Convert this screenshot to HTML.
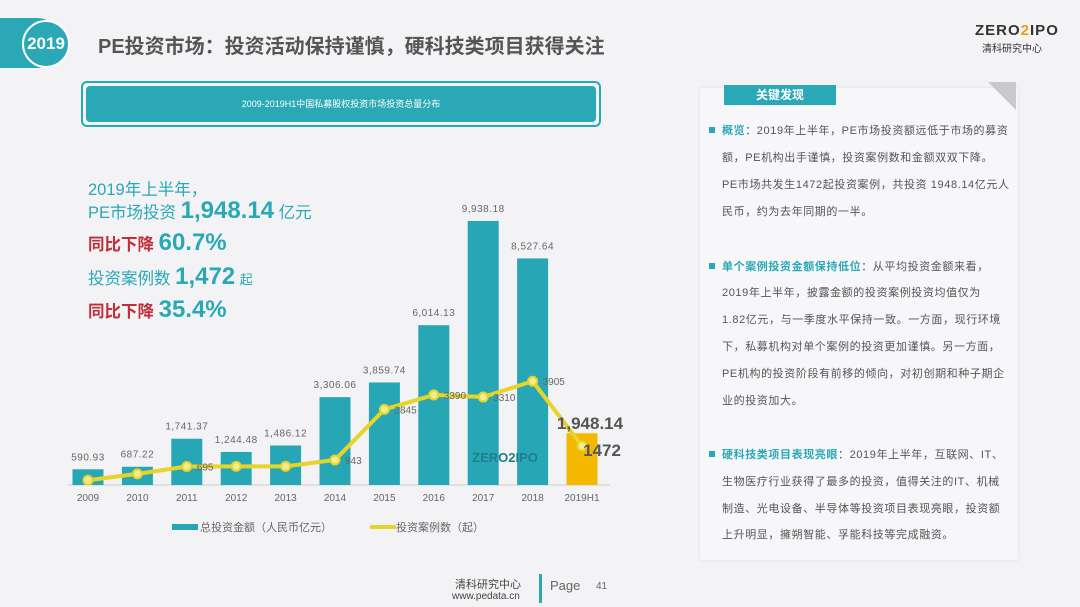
<!DOCTYPE html>
<html><head><meta charset="utf-8">
<style>
body{margin:0;width:1080px;height:607px;overflow:hidden;background:#f3f3f5;font-family:"Liberation Sans","Noto Sans CJK SC",sans-serif;position:relative}
.abs{position:absolute}
.rl{position:absolute;left:722px;font-size:11px;color:#555;white-space:nowrap;letter-spacing:0.6px}
.bul{position:absolute;left:709px;width:6px;height:6px;background:#2aa8b5}
.hl{color:#2aa8b5;font-weight:bold}
.big{font-size:24px;font-weight:bold;color:#2aa8b5;font-family:"Liberation Sans","Noto Sans CJK SC",sans-serif}
.tl{position:absolute;left:88px;font-size:16.5px;color:#2aa8b5;white-space:nowrap}
.red{color:#c0303a;font-weight:bold}
</style></head><body>
<div class="abs" style="left:0;top:18px;width:62px;height:50px;background:#2aa8b5;border-radius:0 25px 25px 0"></div>
<div class="abs" style="left:22px;top:20px;width:44px;height:44px;border-radius:50%;background:#2aa8b5;border:2px solid #fff;color:#fff;font-weight:bold;font-size:17px;line-height:44px;text-align:center">2019</div>
<div class="abs" style="left:98px;top:30px;font-size:20px;font-weight:bold;color:#555;white-space:nowrap">PE投资市场：投资活动保持谨慎，硬科技类项目获得关注</div>
<div class="abs" style="left:975px;top:22px;font-size:15px;font-weight:bold;color:#333;letter-spacing:1px">ZERO<span style="color:#e0a020">2</span>IPO</div>
<div class="abs" style="left:982px;top:40px;font-size:10px;color:#333">清科研究中心</div>
<div class="abs" style="left:81px;top:81px;width:516px;height:42px;border:2px solid #2aa8b5;border-radius:6px"></div>
<div class="abs" style="left:86px;top:86px;width:510px;height:36px;background:#2aa8b5;border-radius:4px;color:#fff;font-size:9px;line-height:36px;text-align:center">2009-2019H1中国私募股权投资市场投资总量分布</div>

<div class="tl" style="top:176px">2019年上半年，</div>
<div class="tl" style="top:197px">PE市场投资 <span class="big">1,948.14</span> 亿元</div>
<div class="tl" style="top:229px"><span class="red">同比下降</span> <span class="big">60.7%</span></div>
<div class="tl" style="top:263px">投资案例数 <span class="big">1,472</span> <span style="font-size:13px">起</span></div>
<div class="tl" style="top:296px"><span class="red">同比下降</span> <span class="big">35.4%</span></div>

<div class="abs" style="left:700px;top:88px;width:318px;height:472px;background:#f7f7fa;box-shadow:0 0 3px #ddd"></div>
<div class="abs" style="left:988px;top:82px;width:0;height:0;border-left:28px solid transparent;border-top:28px solid #c9c9cc"></div>
<div class="abs" style="left:724px;top:85px;width:112px;height:20px;background:#2aa8b5;color:#fff;font-size:12px;font-weight:bold;line-height:20px;text-align:center">关键发现</div>

<div class="bul" style="top:127px"></div>
<div class="rl" style="top:122px"><span class="hl">概览</span>：2019年上半年，PE市场投资额远低于市场的募资</div>
<div class="rl" style="top:149px">额，PE机构出手谨慎，投资案例数和金额双双下降。</div>
<div class="rl" style="top:176px">PE市场共发生1472起投资案例，共投资 1948.14亿元人</div>
<div class="rl" style="top:203px">民币，约为去年同期的一半。</div>
<div class="bul" style="top:263px"></div>
<div class="rl" style="top:258px"><span class="hl">单个案例投资金额保持低位</span>：从平均投资金额来看，</div>
<div class="rl" style="top:284px">2019年上半年，披露金额的投资案例投资均值仅为</div>
<div class="rl" style="top:311px">1.82亿元，与一季度水平保持一致。一方面，现行环境</div>
<div class="rl" style="top:338px">下，私募机构对单个案例的投资更加谨慎。另一方面，</div>
<div class="rl" style="top:365px">PE机构的投资阶段有前移的倾向，对初创期和种子期企</div>
<div class="rl" style="top:392px">业的投资加大。</div>
<div class="bul" style="top:451px"></div>
<div class="rl" style="top:446px"><span class="hl">硬科技类项目表现亮眼</span>：2019年上半年，互联网、IT、</div>
<div class="rl" style="top:473px">生物医疗行业获得了最多的投资，值得关注的IT、机械</div>
<div class="rl" style="top:500px">制造、光电设备、半导体等投资项目表现亮眼，投资额</div>
<div class="rl" style="top:526px">上升明显，擁朔智能、孚能科技等完成融资。</div>

<div class="abs" style="left:455px;top:576px;font-size:11px;color:#444">清科研究中心</div>
<div class="abs" style="left:452px;top:591px;font-size:10px;color:#444">www.pedata.cn</div>
<div class="abs" style="left:539px;top:574px;width:3px;height:29px;background:#2aa8b5"></div>
<div class="abs" style="left:550px;top:578px;font-size:13px;color:#666">Page</div>
<div class="abs" style="left:596px;top:581px;font-size:10px;color:#666">41</div>

<svg id="chart" class="abs" style="left:0;top:0" width="1080" height="607"></svg>
<script>
const categories=["2009","2010","2011","2012","2013","2014","2015","2016","2017","2018","2019H1"];
const amounts=[590.93,687.22,1741.37,1244.48,1486.12,3306.06,3859.74,6014.13,9938.18,8527.64,1948.14];
const amountLabels=["590.93","687.22","1,741.37","1,244.48","1,486.12","3,306.06","3,859.74","6,014.13","9,938.18","8,527.64","1,948.14"];
const cases=[180,420,695,700,700,943,2845,3390,3310,3905,1472];
const caseLabels=["","","695","","","943","2845","3390","3310","3905","1472"];
const NS="http://www.w3.org/2000/svg";
const svg=document.getElementById('chart');
const base=485, k=0.02657;
const xc=i=>88+i*49.4;
const yv=v=>base-v*k;
function mk(t,a){const e=document.createElementNS(NS,t);for(const n in a)e.setAttribute(n,a[n]);svg.appendChild(e);return e;}
const ax=mk('line',{x1:68,x2:610,y1:base,y2:base,stroke:'#ccc','stroke-width':1});


categories.forEach((c,i)=>{
  const last=i===categories.length-1;
  const r=mk('rect',{x:xc(i)-15.5,y:yv(amounts[i]),width:31,height:amounts[i]*k,fill:last?'#f5b800':'#27a7b6'});
  
  
  const t=mk('text',{x:xc(i),y:base+16,'text-anchor':'middle','font-size':10,fill:'#666'});t.textContent=c;
  
  
  if(!last){const l=mk('text',{x:xc(i),y:yv(amounts[i])-9,'text-anchor':'middle','font-size':10,fill:'#666','letter-spacing':'0.5'});l.textContent=amountLabels[i];
  
  }
});
const pts=cases.map((v,i)=>xc(i)+','+yv(v)).join(' ');
const pl=mk('polyline',{points:pts,fill:'none',stroke:'#e6d42a','stroke-width':4,'stroke-linejoin':'round'});


cases.forEach((v,i)=>{
  const c=mk('circle',{cx:xc(i),cy:yv(v),r:4.5,fill:'#f2ec90',stroke:'#e6d42a','stroke-width':2});
  
  
  if(caseLabels[i]&&i<categories.length-1){const t=mk('text',{x:xc(i)+10,y:yv(v)+4,'font-size':10,fill:'#666'});t.textContent=caseLabels[i];
  
  }
});
const n=categories.length-1;
const b1=mk('text',{x:xc(n)+8,y:yv(amounts[n])-4,'text-anchor':'middle','font-size':17,'font-weight':'bold',fill:'#555'});b1.textContent=amountLabels[n];


const b2=mk('text',{x:xc(n)+20,y:yv(cases[n])+10,'text-anchor':'middle','font-size':17,'font-weight':'bold',fill:'#555'});b2.textContent=caseLabels[n];


const wm=mk('text',{x:505,y:462,'text-anchor':'middle','font-size':13,'font-weight':'bold',fill:'#1d7f8a'});wm.textContent='ZERO2IPO';


const lg1=mk('rect',{x:172,y:524,width:26,height:6,fill:'#27a7b6'});


const lt1=mk('text',{x:200,y:531,'font-size':11,fill:'#666'});lt1.textContent='总投资金额（人民币亿元）';


const lg2=mk('line',{x1:370,x2:396,y1:527,y2:527,stroke:'#e6d42a','stroke-width':4});


const lt2=mk('text',{x:396,y:531,'font-size':11,fill:'#666'});lt2.textContent='投资案例数（起）';


</script>
</body></html>
